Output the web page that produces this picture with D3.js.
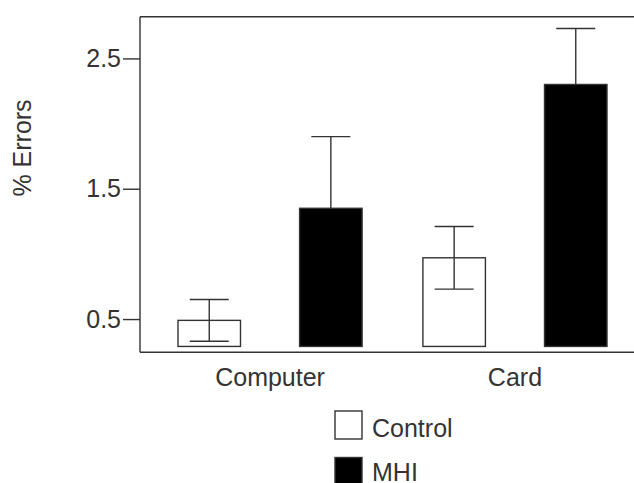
<!DOCTYPE html>
<html>
<head>
<meta charset="utf-8">
<script src="https://cdn.jsdelivr.net/npm/d3@7"></script>
<style>
  body { margin: 0; background: #fff; }
  text { font-family: "Liberation Sans", Arial, sans-serif; fill: #333; }
</style>
</head>
<body>
<div class="chart"></div>
<script>
const categories = ["Computer", "Card"];
const groups = ["Control", "MHI"];
const controlMeans = [0.49, 0.97];
const controlErrors = [0.16, 0.24];
const mhiMeans = [1.35, 2.30];
const mhiErrors = [0.55, 0.43];
const yTicks = [0.5, 1.5, 2.5];
const baseValue = 0.29;

const barData = categories.flatMap((cat, i) => [
  {cat, group: "Control", value: controlMeans[i], err: controlErrors[i]},
  {cat, group: "MHI", value: mhiMeans[i], err: mhiErrors[i]}
]);

const width = 634, height = 483;
const margin = {top: 16.7, right: -11, bottom: 130.7, left: 140};
const innerWidth = width - margin.left - margin.right;
const innerHeight = height - margin.top - margin.bottom;
const fontStack = '"Liberation Sans", Arial, sans-serif';

const svg = d3.select('.chart').append('svg')
  .attr('width', width).attr('height', height);

const g = svg.append('g')
  .attr('transform', `translate(${margin.left},${margin.top})`);

const xScale = d3.scaleBand()
  .domain(categories)
  .range([0, innerWidth])
  .paddingInner(0)
  .paddingOuter(0.031);

const xzScale = d3.scaleBand()
  .domain(groups)
  .range([0, xScale.bandwidth()])
  .paddingInner(0.486)
  .paddingOuter(0.25);

const yScale = d3.scaleLinear()
  .domain([0.245, 2.82])
  .range([innerHeight, 0]);

const fillColor = {Control: "#fff", MHI: "#000"};
const lineColor = "#333";

// frame: top and bottom run off the right edge
g.append('line')
  .attr('x1', 0).attr('x2', width).attr('y1', 0).attr('y2', 0)
  .attr('stroke', lineColor).attr('stroke-width', 1.4);
g.append('line')
  .attr('x1', 0).attr('x2', width).attr('y1', innerHeight).attr('y2', innerHeight)
  .attr('stroke', lineColor).attr('stroke-width', 1.4);

const yAxisG = g.append('g')
  .call(d3.axisLeft(yScale).tickValues(yTicks).tickFormat(d3.format('.1f')).tickSize(17).tickPadding(2));
yAxisG.select('.domain')
  .attr('d', `M0,0V${innerHeight}`)
  .attr('stroke', lineColor).attr('stroke-width', 1.4);
yAxisG.selectAll('.tick line').attr('stroke', lineColor).attr('stroke-width', 1.4);
yAxisG.selectAll('.tick text')
  .attr('font-size', 25).style('font-family', fontStack).attr('fill', '#333');

const xAxisG = g.append('g')
  .attr('transform', `translate(0,${innerHeight})`)
  .call(d3.axisBottom(xScale).tickSize(0).tickPadding(16));
xAxisG.select('.domain').remove();
xAxisG.selectAll('.tick text')
  .attr('font-size', 25).style('font-family', fontStack).attr('fill', '#333');

svg.append('text')
  .attr('transform', `translate(31,148) rotate(-90)`)
  .attr('text-anchor', 'middle')
  .attr('font-size', 25)
  .text('% Errors');

g.selectAll('rect.bar').data(barData)
  .join('rect')
  .attr('class', 'bar')
  .attr('x', d => xScale(d.cat) + xzScale(d.group))
  .attr('y', d => yScale(d.value))
  .attr('width', xzScale.bandwidth())
  .attr('height', d => yScale(baseValue) - yScale(d.value))
  .attr('fill', d => fillColor[d.group])
  .attr('stroke', lineColor)
  .attr('stroke-width', 1.4);

const capHalf = 19.5;
const errG = g.selectAll('g.err').data(barData)
  .join('g')
  .attr('class', 'err')
  .attr('transform', d => `translate(${xScale(d.cat) + xzScale(d.group) + xzScale.bandwidth() / 2},0)`);

errG.append('line')
  .attr('y1', d => yScale(d.value + d.err))
  .attr('y2', d => d.group === "Control" ? yScale(d.value - d.err) : yScale(d.value))
  .attr('stroke', lineColor).attr('stroke-width', 1.4);
errG.append('line')
  .attr('x1', -capHalf).attr('x2', capHalf)
  .attr('y1', d => yScale(d.value + d.err)).attr('y2', d => yScale(d.value + d.err))
  .attr('stroke', lineColor).attr('stroke-width', 1.4);
errG.filter(d => d.group === "Control").append('line')
  .attr('x1', -capHalf).attr('x2', capHalf)
  .attr('y1', d => yScale(d.value - d.err)).attr('y2', d => yScale(d.value - d.err))
  .attr('stroke', lineColor).attr('stroke-width', 1.4);

const legend = svg.append('g')
  .attr('transform', 'translate(335,411)');
const legendItem = legend.selectAll('g').data(groups)
  .join('g')
  .attr('transform', (_, i) => `translate(0,${i * 46.5})`);
legendItem.append('rect')
  .attr('width', 27).attr('height', 28)
  .attr('fill', d => fillColor[d])
  .attr('stroke', lineColor).attr('stroke-width', 1.4);
legendItem.append('text')
  .attr('x', 37).attr('y', (_, i) => 26 - i * 2.5)
  .attr('font-size', 25)
  .text(d => d);
</script>
</body>
</html>
